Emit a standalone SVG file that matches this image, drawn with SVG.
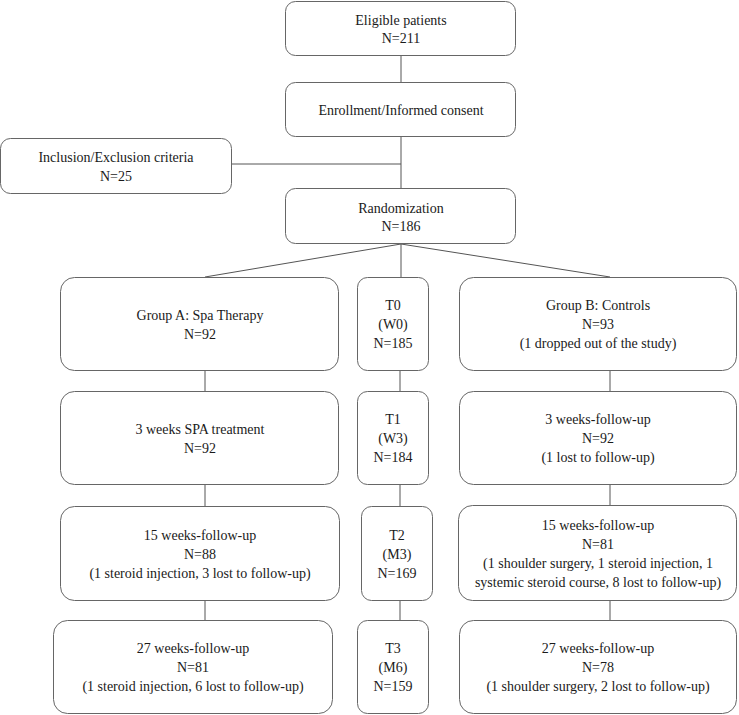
<svg xmlns="http://www.w3.org/2000/svg" width="739" height="715" viewBox="0 0 739 715">
<style>
.box{fill:#fff;stroke:#666;stroke-width:1}
.ln{stroke:#555;stroke-width:1;fill:none}
text{font-family:'Liberation Serif','DejaVu Serif',serif;font-size:14px;fill:#1a1a1a;text-anchor:middle}
</style>
<rect width="739" height="715" fill="#fff"/>
<g id="connectors">
<line class="ln" x1="401" y1="56" x2="401" y2="82"/>
<line class="ln" x1="401" y1="137" x2="401" y2="189"/>
<line class="ln" x1="232" y1="164" x2="401" y2="164"/>
<line class="ln" x1="401" y1="244" x2="401" y2="277"/>
<line class="ln" x1="401" y1="244" x2="205" y2="277"/>
<line class="ln" x1="401" y1="244" x2="610" y2="277"/>
<line class="ln" x1="205" y1="371" x2="205" y2="391"/>
<line class="ln" x1="205" y1="485" x2="205" y2="506"/>
<line class="ln" x1="205" y1="601" x2="205" y2="620"/>
<line class="ln" x1="400" y1="371" x2="400" y2="391"/>
<line class="ln" x1="400" y1="485" x2="400" y2="506"/>
<line class="ln" x1="400" y1="601" x2="400" y2="620"/>
<line class="ln" x1="610" y1="371" x2="610" y2="391"/>
<line class="ln" x1="610" y1="485" x2="610" y2="505"/>
<line class="ln" x1="610" y1="601" x2="610" y2="620"/>
</g>
<g id="eligible"><rect class="box" x="285.5" y="1.5" width="230" height="54" rx="10"/><text x="401" y="24.5">Eligible patients</text><text x="401" y="42.5">N=211</text></g>
<g id="enrollment"><rect class="box" x="285.5" y="82.5" width="230" height="54" rx="10"/><text x="401" y="115">Enrollment/Informed consent</text></g>
<g id="inclusion"><rect class="box" x="0.5" y="138.5" width="231" height="55" rx="10"/><text x="116" y="162">Inclusion/Exclusion criteria</text><text x="116" y="180.5">N=25</text></g>
<g id="randomization"><rect class="box" x="285.5" y="188.5" width="230" height="55" rx="10"/><text x="401" y="212.5">Randomization</text><text x="401" y="230.5">N=186</text></g>
<g id="groupA"><rect class="box" x="60.5" y="277.5" width="278" height="93" rx="14"/><text x="200" y="319.5">Group A: Spa Therapy</text><text x="200" y="338.5">N=92</text></g>
<g id="t0"><rect class="box" x="357.5" y="277.5" width="71" height="93" rx="10"/><text x="393" y="310">T0</text><text x="393" y="329">(W0)</text><text x="393" y="348">N=185</text></g>
<g id="groupB"><rect class="box" x="459.5" y="277.5" width="277" height="93" rx="14"/><text x="598" y="310">Group B: Controls</text><text x="598" y="329">N=93</text><text x="598" y="348">(1 dropped out of the study)</text></g>
<g id="spa"><rect class="box" x="60.5" y="391.5" width="278" height="93" rx="14"/><text x="200" y="433.5">3 weeks SPA treatment</text><text x="200" y="452.5">N=92</text></g>
<g id="t1"><rect class="box" x="357.5" y="391.5" width="71" height="93" rx="10"/><text x="393" y="424">T1</text><text x="393" y="443">(W3)</text><text x="393" y="462">N=184</text></g>
<g id="fu3b"><rect class="box" x="459.5" y="391.5" width="277" height="93" rx="14"/><text x="598" y="424">3 weeks-follow-up</text><text x="598" y="443">N=92</text><text x="598" y="462">(1 lost to follow-up)</text></g>
<g id="fu15a"><rect class="box" x="60.5" y="506.5" width="279" height="94" rx="14"/><text x="200" y="540">15 weeks-follow-up</text><text x="200" y="559">N=88</text><text x="200" y="578">(1 steroid injection, 3 lost to follow-up)</text></g>
<g id="t2"><rect class="box" x="361.5" y="506.5" width="71" height="94" rx="10"/><text x="397" y="540">T2</text><text x="397" y="559">(M3)</text><text x="397" y="578">N=169</text></g>
<g id="fu15b"><rect class="box" x="458.5" y="505.5" width="278" height="95" rx="14"/><text x="598" y="530">15 weeks-follow-up</text><text x="598" y="549">N=81</text><text x="598" y="568">(1 shoulder surgery, 1 steroid injection, 1</text><text x="598" y="587">systemic steroid course, 8 lost to follow-up)</text></g>
<g id="fu27a"><rect class="box" x="53.5" y="620.5" width="279" height="93" rx="14"/><text x="193" y="653">27 weeks-follow-up</text><text x="193" y="672">N=81</text><text x="193" y="691">(1 steroid injection, 6 lost to follow-up)</text></g>
<g id="t3"><rect class="box" x="357.5" y="620.5" width="71" height="93" rx="10"/><text x="393" y="653">T3</text><text x="393" y="672">(M6)</text><text x="393" y="691">N=159</text></g>
<g id="fu27b"><rect class="box" x="459.5" y="620.5" width="277" height="93" rx="14"/><text x="598" y="653">27 weeks-follow-up</text><text x="598" y="672">N=78</text><text x="598" y="691">(1 shoulder surgery, 2 lost to follow-up)</text></g>
</svg>
